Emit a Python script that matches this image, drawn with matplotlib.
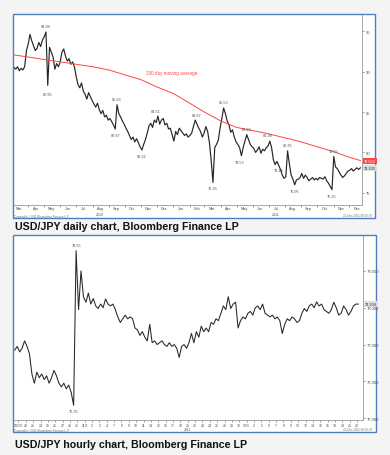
"""
USD/JPY daily and hourly charts (Bloomberg style), two framed panels
"""

import matplotlib
matplotlib.use("Agg")
import matplotlib.pyplot as plt
import matplotlib.dates as mdates
import matplotlib.transforms as mtrans
from matplotlib.patches import Rectangle
import numpy as np
import pandas as pd

plt.rcParams["font.family"] = ["Liberation Sans", "DejaVu Sans"]

# ---- daily chart data (about two points a week, Mar 2010 - Dec 2011) ----
daily_close = [
    90.5, 90.3, 90.6, 90.1, 90.4, 90.2, 90.6, 92.6, 93.4,   # Mar 10
    94.6, 93.8, 93.2, 92.6, 92.9, 93.6, 93.1, 93.9, 94.3,   # Apr
    94.9, 88.3, 93.0, 92.4, 91.8, 90.3, 91.0, 90.6, 91.2,   # May
    92.4, 92.8, 91.9, 91.3, 91.6, 90.9, 91.2, 90.6, 89.4,   # Jun
    88.4, 88.0, 88.6, 87.6, 87.2, 86.6, 87.4, 86.9, 86.4,   # Jul
    86.0, 85.6, 86.1, 85.3, 84.8, 85.2, 84.4, 84.6, 84.0,   # Aug
    84.2, 83.8, 83.4, 82.9, 85.9, 84.8, 84.4, 83.9, 83.5,   # Sep
    83.0, 82.6, 82.1, 81.6, 81.9, 81.3, 81.7, 81.2, 80.7,   # Oct
    80.3, 81.0, 81.6, 82.4, 83.3, 83.6, 83.1, 84.0, 83.7,   # Nov
    84.5, 83.5, 84.0, 84.2, 83.4, 83.6, 82.9, 83.0, 82.2,   # Dec
    81.4, 82.6, 82.2, 83.0, 82.7, 82.4, 82.1, 82.3, 81.9,   # Jan 11
    82.1, 82.4, 83.2, 84.0, 83.5, 83.0, 82.6, 81.9, 82.4,   # Feb
    83.2, 82.6, 81.2, 79.0, 76.3, 80.6, 81.0, 81.5, 83.0,   # Mar
    84.2, 85.5, 84.8, 83.9, 83.4, 82.5, 82.8, 81.9, 81.3,   # Apr
    81.0, 80.6, 79.6, 80.6, 81.4, 82.2, 81.6, 81.0, 80.7,   # May
    80.5, 80.0, 80.3, 80.7, 79.9, 80.4, 80.2, 80.6, 80.8,   # Jun
    81.4, 80.6, 79.1, 78.5, 78.9, 78.4, 77.9, 77.2, 76.8,   # Jul
    77.0, 80.2, 78.6, 77.2, 76.7, 76.0, 76.6, 76.7, 76.9,   # Aug
    77.4, 76.8, 77.2, 76.9, 76.5, 76.7, 76.9, 76.6, 76.8,   # Sep
    76.6, 76.9, 76.8, 76.7, 77.0, 76.5, 76.2, 75.8, 75.4,   # Oct
    79.5, 78.2, 78.0, 77.6, 77.2, 76.9, 77.1, 77.4, 77.7,   # Nov
    77.8, 78.0, 77.7, 77.9, 78.1, 77.9, 78.1,               # Dec
]
daily_start = "2010-03-05"
daily_end = "2011-12-22"

ma200 = [92.1, 91.8, 91.5, 91.2, 90.9, 90.6, 90.2, 89.6, 89.0, 88.1, 87.3, 86.1,
         85.0, 83.9, 83.1, 82.7, 82.3, 81.8, 81.3, 80.7, 80.1, 79.4, 79.0]

daily_labels = ["94.99", "87.95", "85.93", "82.87", "80.22", "84.51", "83.97",
                "76.25", "85.52", "79.52", "82.23", "81.49", "78.46", "80.25",
                "75.95", "79.55", "75.35"]
daily_label_dates = ["2010-05-04", "2010-05-07", "2010-09-15", "2010-09-12",
                     "2010-11-01", "2010-12-01", "2011-02-15", "2011-03-17",
                     "2011-04-06", "2011-05-08", "2011-05-22", "2011-07-01",
                     "2011-07-20", "2011-08-05", "2011-08-19", "2011-11-01",
                     "2011-10-29"]
daily_label_above = [True, False, True, False, False, True, True, False, True,
                     False, True, True, False, True, False, True, False]
daily_yticks = [75, 80, 85, 90, 95]
ma_last = "79.023"
daily_last = "78.100"

# ---- hourly chart data (three points per trading day, 19 Oct - 22 Dec 2011) ----
hourly_close = [
    76.85, 76.95, 76.80,  76.90, 77.10, 76.95,  76.75, 76.20, 75.95,
    76.25, 76.10, 76.20,  76.05, 76.15, 75.95,  76.10, 76.30, 76.15,
    75.95, 75.85, 75.95,  75.80, 75.90, 75.70,  75.35, 79.55, 77.95,
    79.00, 78.30, 78.15,  78.40, 78.10, 78.25,  78.05, 77.98, 78.10,
    78.00, 78.24, 78.10,  78.05, 78.10, 77.95,  77.75, 77.60, 77.70,
    77.80, 77.70, 77.75,  77.70, 77.45, 77.40,  77.25, 77.35, 77.20,
    77.10, 77.55, 77.05,  77.10, 77.00, 77.05,  77.10, 77.00, 76.95,
    77.05, 76.95, 77.00,  76.90, 76.65, 76.95,  77.00, 76.90, 77.05,
    77.30, 77.05, 77.35,  77.20, 77.50, 77.35,  77.45, 77.35, 77.60,
    77.55, 77.70, 77.65,  77.85, 78.05, 77.95,  78.30, 77.98, 78.10,
    78.15, 77.45, 77.65,  77.75, 77.70, 77.85,  77.90, 77.80, 78.00,
    78.05, 77.95, 78.10,  77.85, 77.80, 77.75,  77.80, 77.70, 77.75,
    77.65, 77.30, 77.55,  77.70, 77.65, 77.75,  77.70, 77.60, 77.65,
    77.85, 77.98, 77.90,  78.05, 78.10, 78.00,  78.16, 78.05, 78.10,
    77.95, 77.90, 77.85,  77.95, 78.15, 78.00,  77.80, 77.85, 78.05,
    77.95, 77.80, 77.90,  78.05, 78.10, 78.10,
]
points_per_day = 3
hourly_start = "2011-10-19"
hourly_end = "2011-12-22"
hourly_labels = ["79.55", "75.35"]
hourly_label_days = [8.33, 8.0]
hourly_label_values = [79.55, 75.35]
hourly_label_above = [True, False]
hourly_yticks = [75, 76, 77, 78, 79]
hourly_last = "78.104"

BG = "#f4f4f4"
FRAME = "#4f7fc0"
AXIS = "#9a9a9a"
TXT = "#505050"
LINE = "#262626"
RED = "#ff4545"

W, H = 390, 456
fig = plt.figure(figsize=(W / 100, H / 100), dpi=100, facecolor=BG)


def px_rect(x0, y0, x1, y1):
    # pixel box (top-left origin) -> figure fraction rect
    return [x0 / W, 1 - y1 / H, (x1 - x0) / W, (y1 - y0) / H]


def frame(x0, y0, x1, y1):
    r = px_rect(x0, y0, x1, y1)
    fig.patches.append(Rectangle((r[0], r[1]), r[2], r[3], transform=fig.transFigure,
                                 facecolor="white", edgecolor=FRAME, lw=1.0, zorder=-5))


def style_axes(ax):
    ax.set_facecolor("none")
    ax.set_zorder(2)
    for s in ["left", "top"]:
        ax.spines[s].set_visible(False)
    for s in ["right", "bottom"]:
        ax.spines[s].set_color(AXIS)
        ax.spines[s].set_linewidth(0.6)
    ax.yaxis.tick_right()
    ax.tick_params(axis="y", labelsize=3, colors=TXT, length=1.5, width=0.4, pad=1)
    ax.tick_params(axis="x", which="both", labelsize=2.8, colors=TXT, width=0.4, pad=1)


def right_box(ax, y, text, fc, tc):
    tr = mtrans.blended_transform_factory(ax.transAxes, ax.transData)
    ax.text(1.006, y, text, transform=tr, fontsize=2.8, color=tc, va="center", ha="left",
            bbox=dict(boxstyle="square,pad=0.25", fc=fc, ec="none"), clip_on=False)


# ================= daily panel =================
frame(13, 15, 375, 219)
ax1 = fig.add_axes(px_rect(14, 16, 362, 206))
style_axes(ax1)

d_dates = pd.date_range(daily_start, daily_end, periods=len(daily_close))
ma_dates = list(pd.date_range("2010-03-01", "2011-12-01", freq="MS")) + [pd.Timestamp(daily_end)]

ax1.plot(d_dates, daily_close, color=LINE, lw=0.85)
ax1.plot(ma_dates, ma200, color=RED, lw=0.7)

for txt, d, up in zip(daily_labels, daily_label_dates, daily_label_above):
    i = int(np.argmin(np.abs(d_dates - pd.Timestamp(d))))
    ax1.annotate(txt, (d_dates[i], float(txt)), xytext=(0, 2.5 if up else -2.5),
                 textcoords="offset points", ha="center", va="bottom" if up else "top",
                 fontsize=2.8, color=TXT)

ax1.text(pd.Timestamp("2010-12-28"), 89.9, "200 day moving average", color=RED,
         fontsize=3.3, ha="center", va="center")

ax1.set_xlim(pd.Timestamp(daily_start), pd.Timestamp("2011-12-25"))
ax1.set_ylim(73.5, 97.0)
ax1.set_yticks(daily_yticks)
ax1.set_yticklabels([str(v) for v in daily_yticks])
ax1.xaxis.set_major_locator(mdates.MonthLocator())
ax1.xaxis.set_major_formatter(plt.NullFormatter())
ax1.xaxis.set_minor_locator(mdates.MonthLocator(bymonthday=15))
ax1.xaxis.set_minor_formatter(mdates.DateFormatter("%b"))
ax1.tick_params(axis="x", which="major", length=1.5)
ax1.tick_params(axis="x", which="minor", length=0)

right_box(ax1, 79.0, ma_last, RED, "white")
right_box(ax1, 78.1, daily_last, "#dddddd", "#333333")

tr1 = mtrans.blended_transform_factory(ax1.transData, ax1.transAxes)
ax1.text(pd.Timestamp("2010-08-15"), -0.035, "2010", transform=tr1, fontsize=2.6,
         color=TXT, ha="center", va="top")
ax1.text(pd.Timestamp("2011-07-15"), -0.035, "2011", transform=tr1, fontsize=2.6,
         color=TXT, ha="center", va="top")
fig.text(14 / W, 1 - 217 / H, "Copyright\u00a9 2011 Bloomberg Finance L.P.", fontsize=2.2,
         color="#777777", va="center")
fig.text(372 / W, 1 - 216 / H, "22-Dec-2011 08:05:07", fontsize=2.2, color="#777777",
         va="center", ha="right")

fig.text(15 / W, 1 - 227 / H, "USD/JPY daily chart, Bloomberg Finance LP",
         fontsize=7.7, fontweight="bold", color="#111111", va="center")

# ================= hourly panel =================
frame(13, 236, 376, 433)
ax2 = fig.add_axes(px_rect(14, 237, 363, 421))
style_axes(ax2)

h_x = np.arange(len(hourly_close)) / points_per_day
ax2.plot(h_x, hourly_close, color=LINE, lw=0.75)

for txt, dx, v, up in zip(hourly_labels, hourly_label_days, hourly_label_values,
                          hourly_label_above):
    ax2.annotate(txt, (dx, v), xytext=(0, 2.5 if up else -2.5), textcoords="offset points",
                 ha="center", va="bottom" if up else "top", fontsize=2.8, color=TXT)

days = pd.bdate_range(hourly_start, hourly_end)
day_labels = []
for k, d in enumerate(days):
    if k == 0 or d.month != days[k - 1].month:
        day_labels.append(f"{d.month}/{d.day}")
    else:
        day_labels.append(str(d.day))

ax2.set_xlim(-0.1, 47.3)
ax2.set_ylim(74.95, 79.95)
ax2.set_yticks(hourly_yticks)
ax2.set_yticklabels([f"{v:.3f}" for v in hourly_yticks])
ax2.set_xticks(np.arange(len(days)) + 0.5)
ax2.set_xticklabels(day_labels)
ax2.tick_params(axis="x", length=1.2, labelsize=2.5)

right_box(ax2, 78.104, hourly_last, "#dddddd", "#333333")

tr2 = mtrans.blended_transform_factory(ax2.transData, ax2.transAxes)
ax2.text(23.4, -0.04, "2011", transform=tr2, fontsize=2.4, color=TXT, ha="center", va="top")
fig.text(14 / W, 1 - 431 / H, "Copyright\u00a9 2011 Bloomberg Finance L.P.", fontsize=2.2,
         color="#777777", va="center")
fig.text(372 / W, 1 - 430 / H, "22-Dec-2011 08:05:07", fontsize=2.2, color="#777777",
         va="center", ha="right")

fig.text(15 / W, 1 - 445 / H, "USD/JPY hourly chart, Bloomberg Finance LP",
         fontsize=7.7, fontweight="bold", color="#111111", va="center")

fig.savefig("out.png", dpi=100, facecolor=BG)
